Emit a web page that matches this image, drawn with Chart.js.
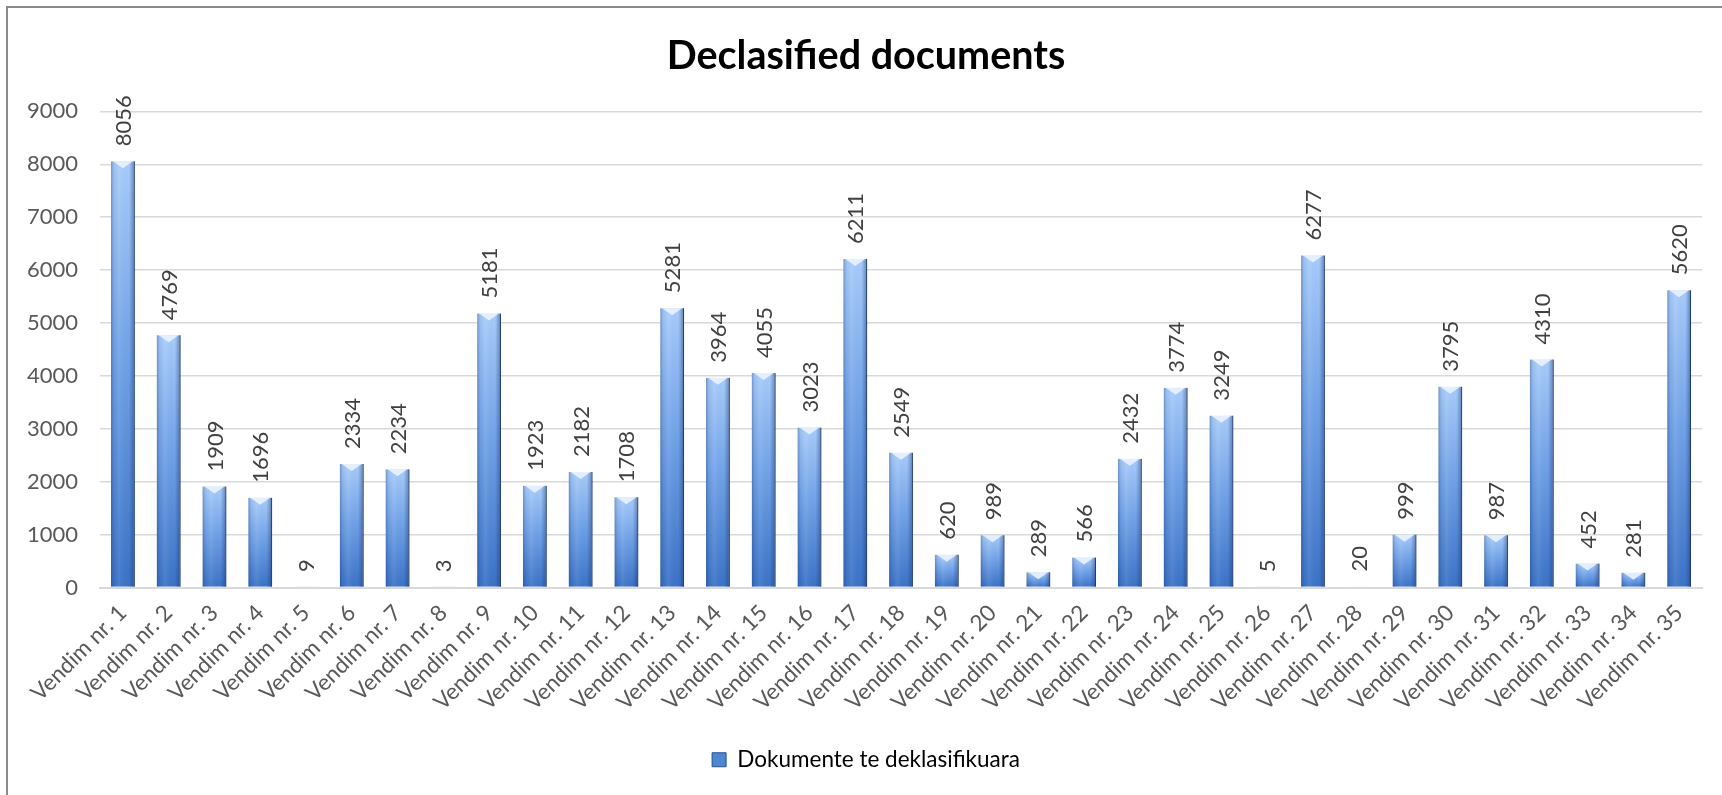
<!DOCTYPE html>
<html>
<head>
<meta charset="utf-8">
<script src="https://cdn.jsdelivr.net/npm/chart.js@4.4.1/dist/chart.umd.min.js"></script>
<style>
    body { margin: 0; background: #fff; overflow: hidden; }
    #wrap { position: relative; width: 1722px; height: 795px; }
    #frame { position: absolute; left: 6px; top: 6px; width: 1800px; height: 900px; border: 2px solid #8a8a8a; box-sizing: border-box; }
    canvas { position: absolute; left: 0; top: 0; }
</style>
</head>
<body>
<div id="wrap">
    <div id="frame"></div>
    <canvas id="chart" width="1722" height="795"></canvas>
</div>
<script>
// chart data
const categories = [];
for (let i = 1; i <= 35; i++) categories.push("Vendim nr. " + i);

const documents = [8056, 4769, 1909, 1696, 9, 2334, 2234, 3, 5181, 1923,
    2182, 1708, 5281, 3964, 4055, 3023, 6211, 2549, 620, 989,
    289, 566, 2432, 3774, 3249, 5, 6277, 20, 999, 3795,
    987, 4310, 452, 281, 5620];

const seriesName = "Dokumente te deklasifikuara";
const chartTitle = "Declasified documents";
const yTicks = [0, 1000, 2000, 3000, 4000, 5000, 6000, 7000, 8000, 9000];

const FONT = "Lato, 'Open Sans', sans-serif";

// gradient per bar, lighter on top
function barFill(context) {
    const chart = context.chart;
    const y = chart.scales.y;
    if (!y || context.raw === undefined) return "#5b8fd6";
    const top = y.getPixelForValue(context.raw);
    const base = y.getPixelForValue(0);
    if (!isFinite(top) || base - top < 1) return "#5b8fd6";
    const g = chart.ctx.createLinearGradient(0, top, 0, base);
    g.addColorStop(0, "#a8ccfa");
    g.addColorStop(0.45, "#72a3e8");
    g.addColorStop(1, "#3a72c6");
    return g;
}

// title and legend sit centred in the (wider) frame, a bit right of canvas centre
const shiftBlocks = {
    id: "shiftBlocks",
    afterLayout(chart) {
        const dx = 15;
        [chart.titleBlock, chart.legend].forEach(function (b) {
            if (b) { b.left += dx; b.right += dx; }
        });
    }
};

// edge shading, bevel triangle on top and the rotated value labels
const barDecor = {
    id: "barDecor",
    afterDatasetsDraw(chart) {
        const ctx = chart.ctx;
        const meta = chart.getDatasetMeta(0);
        meta.data.forEach(function (bar, i) {
            const w = bar.width;
            const h = bar.base - bar.y;
            const left = bar.x - w / 2;
            if (h > 1) {
                ctx.save();
                const hg = ctx.createLinearGradient(left, 0, left + w, 0);
                hg.addColorStop(0, "rgba(20,50,110,0.35)");
                hg.addColorStop(0.12, "rgba(20,50,110,0.08)");
                hg.addColorStop(0.35, "rgba(255,255,255,0.08)");
                hg.addColorStop(0.75, "rgba(20,50,110,0.0)");
                hg.addColorStop(0.92, "rgba(20,45,100,0.3)");
                hg.addColorStop(1, "rgba(15,35,80,0.6)");
                ctx.fillStyle = hg;
                ctx.fillRect(left, bar.y, w, h);
                ctx.restore();
            }
            if (h > 4) {
                ctx.save();
                ctx.fillStyle = "rgba(232,242,255,0.92)";
                ctx.beginPath();
                ctx.moveTo(left + 2, bar.y);
                ctx.lineTo(left + w - 2, bar.y);
                ctx.lineTo(bar.x, bar.y + Math.min(7, h));
                ctx.closePath();
                ctx.fill();
                ctx.restore();
            }
            ctx.save();
            ctx.translate(bar.x, bar.y - 15);
            ctx.rotate(-Math.PI / 2);
            ctx.font = "22px " + FONT;
            ctx.fillStyle = "#404040";
            ctx.textAlign = "left";
            ctx.textBaseline = "middle";
            ctx.fillText(String(documents[i]), 0, 1);
            ctx.restore();
        });
    }
};

chart = new Chart(document.getElementById("chart"), {
    type: "bar",
    data: {
        labels: categories,
        datasets: [{
            label: seriesName,
            data: documents,
            backgroundColor: barFill,
            borderColor: "#2a5294",
            borderWidth: {left: 0, right: 1, top: 0, bottom: 0},
            borderSkipped: false,
            barPercentage: 0.52,
            categoryPercentage: 1,
        }],
    },
    options: {
        responsive: false,
        animation: false,
        devicePixelRatio: 1,
        layout: {padding: {left: 0, right: 20, top: 0, bottom: 14}},
        plugins: {
            title: {
                display: true,
                text: chartTitle,
                color: "#000000",
                font: {family: FONT, size: 39.5, weight: "bold"},
                padding: {top: 33, bottom: 31},
            },
            legend: {
                position: "bottom",
                labels: {
                    color: "#595959",
                    font: {family: FONT, size: 22.5},
                    boxWidth: 14,
                    boxHeight: 14,
                    padding: 11,
                    generateLabels: function (chart) {
                        return [{
                            text: seriesName,
                            fillStyle: "#4f86d2",
                            strokeStyle: "#24518f",
                            lineWidth: 1,
                            datasetIndex: 0,
                        }];
                    },
                },
            },
            tooltip: {enabled: false},
        },
        scales: {
            x: {
                grid: {display: false},
                border: {display: true, color: "#d9d9d9", width: 2},
                ticks: {
                    color: "#595959",
                    font: {family: FONT, size: 22.5},
                    minRotation: 45,
                    maxRotation: 45,
                    autoSkip: false,
                    padding: 4,
                },
                afterFit: function (scale) { scale.height = 150; },
            },
            y: {
                min: 0,
                max: 9000,
                afterBuildTicks: function (scale) {
                    scale.ticks = yTicks.map(function (v) { return {value: v}; });
                },
                grid: {color: "#d9d9d9", lineWidth: 1.5, drawTicks: false},
                border: {display: false},
                ticks: {
                    color: "#595959",
                    font: {family: FONT, size: 22},
                    padding: 22,
                    callback: function (v) { return String(v); },
                },
                afterFit: function (scale) { scale.width = 100; },
            },
        },
    },
    plugins: [shiftBlocks, barDecor],
});
</script>
</body>
</html>
